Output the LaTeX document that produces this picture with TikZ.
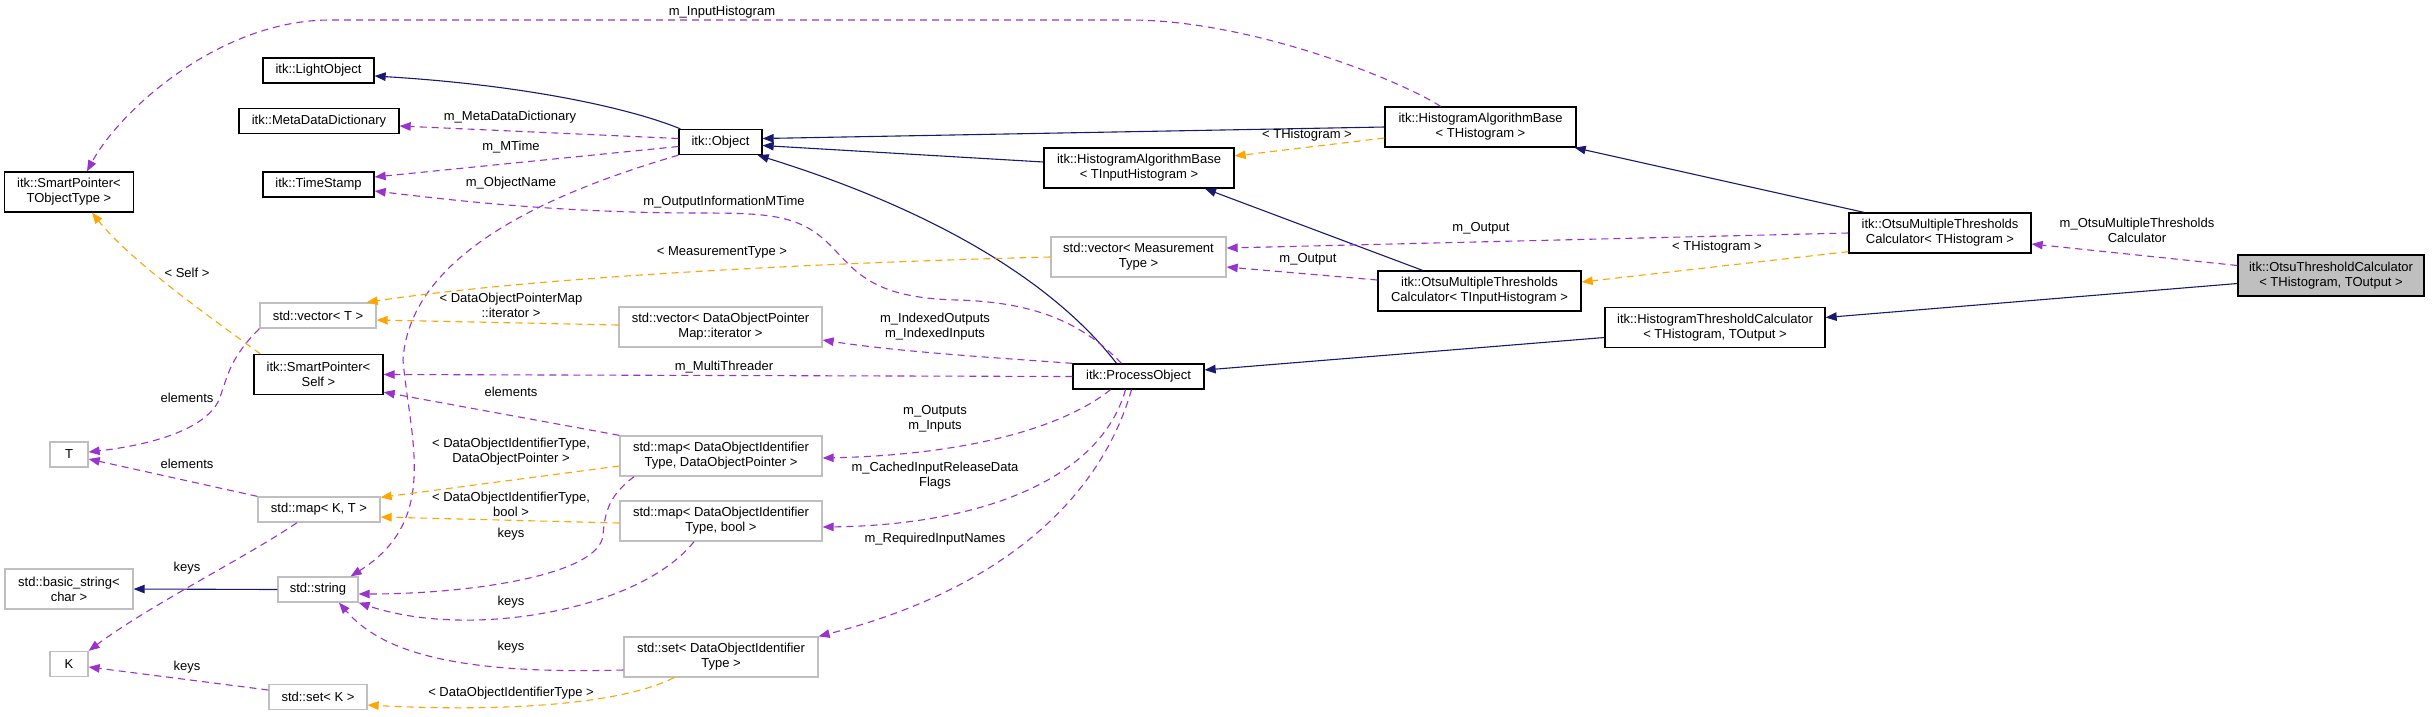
\documentclass[tikz,border=0pt]{standalone}
\usepackage{fontspec}
\setmainfont{Liberation Sans}
\usetikzlibrary{arrows.meta}
\definecolor{inhc}{HTML}{191970}
\definecolor{usec}{HTML}{9A32CD}
\definecolor{tplc}{HTML}{FFA500}
\definecolor{grayb}{HTML}{BFBFBF}
\begin{document}
\begin{tikzpicture}[x=1pt,y=-1pt,
  font=\fontsize{13}{15}\selectfont,
  cls/.style={draw=black,line width=1.3pt,fill=white,inner sep=0pt,align=center},
  ext/.style={cls,draw=grayb},
  lbl/.style={inner sep=0pt,align=center},
  tip/.style={-{Triangle[length=11pt,width=8.5pt]}},
  inh/.style={draw=inhc,line width=1.1pt,tip},
  use/.style={draw=usec,line width=1.1pt,dash pattern=on 7pt off 5pt,tip},
  tpl/.style={draw=tplc,line width=1.1pt,dash pattern=on 7pt off 5pt,tip}]
\fill[white] (0,0) rectangle (2432,716);
\useasboundingbox (0,0) rectangle (2432,716);
% nodes
\node[cls,minimum width=111pt,minimum height=25pt] (lightobj) at (318.5,70.5) {itk::LightObject};
\node[cls,minimum width=160pt,minimum height=25pt] (mdd) at (319,121) {itk::MetaDataDictionary};
\node[cls,minimum width=111pt,minimum height=25pt] (tstamp) at (318.5,184.5) {itk::TimeStamp};
\node[cls,minimum width=129pt,minimum height=40pt] (sptobj) at (69,192) {itk::SmartPointer<\\TObjectType >};
\node[cls,minimum width=83pt,minimum height=25pt] (object) at (720.5,142) {itk::Object};
\node[cls,minimum width=191pt,minimum height=40pt] (habth) at (1480.5,127) {itk::HistogramAlgorithmBase\\< THistogram >};
\node[cls,minimum width=190pt,minimum height=40pt] (habtih) at (1139,168) {itk::HistogramAlgorithmBase\\< TInputHistogram >};
\node[ext,minimum width=175pt,minimum height=40pt] (vecmt) at (1138.5,257) {std::vector< Measurement\\Type >};
\node[cls,minimum width=182pt,minimum height=40pt] (omtth) at (1940,233) {itk::OtsuMultipleThresholds\\Calculator< THistogram >};
\node[cls,minimum width=203pt,minimum height=40pt] (omttih) at (1479.5,291) {itk::OtsuMultipleThresholds\\Calculator< TInputHistogram >};
\node[cls,minimum width=220pt,minimum height=40pt] (htc) at (1715,327.5) {itk::HistogramThresholdCalculator\\< THistogram, TOutput >};
\node[cls,fill=grayb,minimum width=186pt,minimum height=41pt] (otc) at (2331,275.5) {itk::OtsuThresholdCalculator\\< THistogram, TOutput >};
\node[cls,minimum width=131pt,minimum height=25pt] (procobj) at (1138.5,376.5) {itk::ProcessObject};
\node[ext,minimum width=116pt,minimum height=25pt] (vect) at (318,315.5) {std::vector< T >};
\node[ext,minimum width=203pt,minimum height=40pt] (vecdop) at (720.5,327) {std::vector< DataObjectPointer\\Map::iterator >};
\node[cls,minimum width=129pt,minimum height=40pt] (spself) at (318.5,374.5) {itk::SmartPointer<\\Self >};
\node[ext,minimum width=38pt,minimum height=25pt] (T) at (69,454.5) {T};
\node[ext,minimum width=202pt,minimum height=40pt] (mapdop) at (721,456) {std::map< DataObjectIdentifier\\Type, DataObjectPointer >};
\node[ext,minimum width=122pt,minimum height=25pt] (mapkt) at (319,509.5) {std::map< K, T >};
\node[ext,minimum width=202pt,minimum height=40pt] (mapbool) at (721,521) {std::map< DataObjectIdentifier\\Type, bool >};
\node[ext,minimum width=128pt,minimum height=40pt] (bstr) at (69,589) {std::basic\_string<\\char >};
\node[ext,minimum width=80pt,minimum height=25pt] (str) at (318,589.5) {std::string};
\node[ext,minimum width=38pt,minimum height=25pt] (K) at (69,664) {K};
\node[ext,minimum width=98pt,minimum height=25pt] (setk) at (318,697) {std::set< K >};
\node[ext,minimum width=194pt,minimum height=40pt] (setdo) at (721,657) {std::set< DataObjectIdentifier\\Type >};
% inheritance
\draw[inh] ([xshift=2pt]object.north west) .. controls (640,112) and (540,86) .. ([yshift=-5.5pt]lightobj.east);
\draw[inh] (habth.west) -- ([yshift=3.5pt]object.east);
\draw[inh] ([yshift=6pt]habtih.west) -- ([yshift=-3.5pt]object.east);
\draw[inh] ([xshift=-22pt]procobj.north) .. controls (1060,290) and (950,215) .. ([xshift=-5pt]object.south east);
\draw[inh] ([xshift=-57pt]omttih.north) -- ([xshift=66pt]habtih.south);
\draw[inh] ([xshift=-76pt]omtth.north) -- ([xshift=-2pt]habth.south east);
\draw[inh] ([yshift=-10pt]htc.west) -- ([yshift=6.5pt]procobj.east);
\draw[inh] ([yshift=-8pt]otc.west) -- ([yshift=10pt]htc.east);
\draw[inh] (str.west) -- (bstr.east);
% usage
\draw[use] ([xshift=-40pt]habth.north) .. controls (1400,80) and (1250,20) .. (1130,20) -- (330,20) .. controls (220,20) and (120,110) .. ([xshift=18pt]sptobj.north);
\draw[use] ([yshift=3.5pt]object.west) -- ([yshift=-5pt]mdd.east);
\draw[use] ([yshift=-4.5pt]object.west) -- ([yshift=7.5pt]tstamp.east);
\draw[use] ([xshift=-17pt]procobj.north) .. controls (1080,320) and (1030,302) .. (957,300) .. controls (870,298) and (855,270) .. (830,245) .. controls (800,215) and (770,213) .. (700,213) .. controls (560,213) and (450,200) .. ([yshift=-6.5pt]tstamp.east);
\draw[use] (procobj.west) -- (spself.east);
\draw[use] (mapdop.north west) -- ([yshift=3pt]spself.south east);
\draw[use] (procobj.north west) .. controls (1000,358) and (900,352) .. ([yshift=-13pt]vecdop.east);
\draw[use] ([xshift=-28pt]procobj.south) .. controls (1060,430) and (960,455) .. ([yshift=-2pt]mapdop.east);
\draw[use] ([xshift=-13pt]procobj.south) .. controls (1100,480) and (980,525) .. ([yshift=-6pt]mapbool.east);
\draw[use] ([xshift=-7pt]procobj.south) .. controls (1100,500) and (1000,590) .. (setdo.north east);
\draw[use] (vect.south west) .. controls (230,358) and (228,375) .. (219,400) .. controls (205,430) and (150,445) .. ([yshift=2.5pt]T.east);
\draw[use] (mapkt.north west) -- ([yshift=-4.5pt]T.east);
\draw[use] ([xshift=-22pt]mapkt.south) .. controls (250,555) and (150,605) .. (K.north east);
\draw[use] ([yshift=7pt]setk.west) -- ([yshift=-3pt]K.east);
\draw[use] ([xshift=-87pt]mapdop.south) .. controls (610,495) and (605,510) .. (603,535) .. controls (600,575) and (470,594) .. ([yshift=-4.5pt]str.east);
\draw[use] ([xshift=-27pt]mapbool.south) .. controls (640,610) and (470,640) .. (str.south east);
\draw[use] ([yshift=-13pt]setdo.west) .. controls (450,675) and (380,650) .. ([xshift=21pt]str.south);
\draw[use] (object.south west) .. controls (560,190) and (410,250) .. (403,360) .. controls (410,440) and (440,520) .. ([xshift=-8pt]str.north east);
\draw[use] (omtth.west) -- ([yshift=9pt]vecmt.east);
\draw[use] ([yshift=11pt]omttih.west) -- ([yshift=-10pt]vecmt.east);
\draw[use] ([yshift=10pt]otc.west) -- ([yshift=-11pt]omtth.east);
% template
\draw[tpl] ([xshift=7pt]spself.north west) .. controls (200,310) and (130,260) .. ([xshift=23pt]sptobj.south);
\draw[tpl] (vecmt.west) .. controls (850,262) and (550,275) .. ([xshift=-10pt]vect.north east);
\draw[tpl] ([yshift=2pt]vecdop.west) -- ([yshift=-4.5pt]vect.east);
\draw[tpl] ([yshift=-10pt]mapdop.west) -- ([yshift=-1pt]mapkt.north east);
\draw[tpl] ([yshift=-2pt]mapbool.west) -- ([yshift=-7.5pt]mapkt.east);
\draw[tpl] ([xshift=-47pt]setdo.south) .. controls (620,705) and (500,712) .. ([yshift=-8pt]setk.east);
\draw[tpl] ([yshift=-11pt]habth.west) -- ([yshift=12pt]habtih.east);
\draw[tpl] ([yshift=2pt]omtth.south west) -- ([yshift=9pt]omttih.east);
% labels
\node[lbl] (l1) at (722,12) {m\_InputHistogram};
\node[lbl] (l2) at (510,117) {m\_MetaDataDictionary};
\node[lbl] (l3) at (511,147) {m\_MTime};
\node[lbl] (l4) at (511,183) {m\_ObjectName};
\node[lbl] (l5) at (724,202) {m\_OutputInformationMTime};
\node[lbl] (l6) at (187,273) {< Self >};
\node[lbl] (l7) at (722,252) {< MeasurementType >};
\node[lbl] (l8) at (511,305) {< DataObjectPointerMap\\::iterator >};
\node[lbl] (l9) at (935,327) {m\_IndexedOutputs\\m\_IndexedInputs};
\node[lbl] (l10) at (724,367) {m\_MultiThreader};
\node[lbl] (l11) at (511,392) {elements};
\node[lbl] (l12) at (187,398) {elements};
\node[lbl] (l13) at (187,464) {elements};
\node[lbl] (l14) at (511,452) {< DataObjectIdentifierType,\\DataObjectPointer >};
\node[lbl] (l15) at (935,419) {m\_Outputs\\m\_Inputs};
\node[lbl] (l16) at (511,504) {< DataObjectIdentifierType,\\bool >};
\node[lbl] (l17) at (935,476) {m\_CachedInputReleaseData\\Flags};
\node[lbl] (l18) at (511,534) {keys};
\node[lbl] (l19) at (187,568) {keys};
\node[lbl] (l20) at (511,602) {keys};
\node[lbl] (l21) at (935,539) {m\_RequiredInputNames};
\node[lbl] (l22) at (511,647) {keys};
\node[lbl] (l23) at (187,667) {keys};
\node[lbl] (l24) at (511,693) {< DataObjectIdentifierType >};
\node[lbl] (l25) at (1307,135) {< THistogram >};
\node[lbl] (l26) at (1308,259) {m\_Output};
\node[lbl] (l27) at (1481,228) {m\_Output};
\node[lbl] (l28) at (1717,247) {< THistogram >};
\node[lbl] (l29) at (2137,230) {m\_OtsuMultipleThresholds\\Calculator};
\end{tikzpicture}
\end{document}
